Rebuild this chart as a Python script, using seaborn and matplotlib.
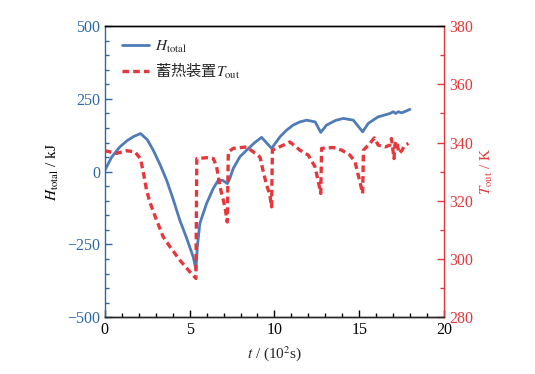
"""Recreate the H_total / T_out dual-axis chart."""

import matplotlib

matplotlib.use("Agg")
import matplotlib.pyplot as plt
import pandas as pd
import seaborn as sns
from matplotlib.ticker import MultipleLocator

# time in units of 10^2 s
t_h = [0.0, 0.4, 0.88, 1.3, 1.67, 2.1, 2.5, 2.85, 3.25, 3.64, 4.0, 4.42, 4.8, 5.21,
       5.37, 5.45, 5.6, 6.0, 6.39, 6.69, 6.95, 7.22, 7.37, 7.57, 7.96, 8.36, 8.8,
       9.24, 9.83, 10.33, 10.7, 11.1, 11.5, 11.9, 12.4, 12.73, 13.07, 13.27, 13.6,
       14.06, 14.65, 15.2, 15.53, 16.1, 16.81, 17.0, 17.15, 17.3, 17.5, 17.99]
h_total = [5, 50, 85, 106, 120, 131, 110, 74, 25, -29, -90, -167, -225, -293,
           -336, -260, -178, -109, -58, -29, -30, -41, -23, 11, 51, 74, 98,
           118, 80, 120, 142, 160, 171, 177, 171, 135, 160, 166, 176,
           183, 177, 137, 166, 188, 200, 206, 200, 206, 202, 214]

t_t = [0.0, 0.69, 1.28, 1.77, 2.1, 2.26, 2.46, 2.65, 3.05, 3.44, 3.84, 4.42, 5.01, 5.37,
       5.42, 6.0, 6.4, 6.59, 6.79, 7.08, 7.22, 7.28, 7.57, 8.36, 8.75, 9.15, 9.34, 9.54,
       9.73, 9.83, 9.88, 10.52, 10.91, 11.5, 11.99, 12.39, 12.59, 12.73, 12.78, 13.47,
       13.96, 14.45, 14.75, 14.89, 15.04, 15.2, 15.25, 15.63, 15.89, 16.12, 16.52,
       16.81, 16.9, 17.05, 17.1, 17.2, 17.35, 17.5, 17.7, 17.9]
t_out = [337.2, 336.3, 337.2, 336.8, 334.5, 330.0, 323.6, 319.6, 313.3, 307.6, 304.2,
         299.6, 295.6, 293.3, 334.5, 334.8, 334.5, 331.7, 324.8, 317.9, 312.7, 336.8,
         338.0, 338.5, 336.8, 335.0, 330.0, 325.4, 321.9, 317.9, 337.4, 339.1, 340.2,
         337.4, 335.7, 331.7, 326.5, 322.5, 338.0, 338.3, 337.4, 335.7, 333.4, 330.0,
         326.5, 322.5, 337.4, 339.7, 341.6, 339.1, 338.5, 339.1, 341.4, 334.5, 339.1,
         340.5, 336.3, 337.2, 339.1, 339.7]

BLUE_LINE = "#4f7bb8"
BLUE_AX = "#2d68a6"
RED = "#e5383c"

sns.set_theme(style="ticks")
plt.rcParams.update(
    {
        "font.family": ["Liberation Serif", "Noto Sans CJK SC"],
        "mathtext.fontset": "stix",
        "font.size": 11,
        "xtick.direction": "in",
        "ytick.direction": "in",
        "axes.linewidth": 1.0,
    }
)

df_h = pd.DataFrame({"t": t_h, "H": h_total})
df_t = pd.DataFrame({"t": t_t, "T": t_out})

fig = plt.figure(figsize=(5.35, 3.74), dpi=100)
ax = fig.add_axes([0.196, 0.152, 0.634, 0.778])
ax2 = ax.twinx()

sns.lineplot(data=df_h, x="t", y="H", ax=ax, color=BLUE_LINE, lw=2.0,
             label=r"$H_{\mathrm{total}}$", legend=False)
sns.lineplot(data=df_t, x="t", y="T", ax=ax2, color=RED, lw=2.4,
             label="蓄热装置$T_{\\mathrm{out}}$", legend=False)
ax2.lines[0].set_dashes([2.0, 1.2])

ax.set_xlim(0, 20)
ax.set_ylim(-500, 500)
ax2.set_ylim(280, 380)
ax.xaxis.set_major_locator(MultipleLocator(5))
ax.xaxis.set_minor_locator(MultipleLocator(1))
ax.yaxis.set_major_locator(MultipleLocator(250))
ax.yaxis.set_minor_locator(MultipleLocator(50))
ax2.yaxis.set_major_locator(MultipleLocator(20))
ax2.yaxis.set_minor_locator(MultipleLocator(10))

ax.tick_params(axis="x", which="major", length=5, width=1, colors="black", labelsize=11.5)
ax.tick_params(axis="x", which="minor", length=3, width=1, colors="black")
ax.tick_params(axis="y", which="major", length=5, width=1, colors=BLUE_AX, labelsize=11.5)
ax.tick_params(axis="y", which="minor", length=3, width=1, colors=BLUE_AX)
ax2.tick_params(axis="y", which="major", length=5, width=1, colors=RED, labelsize=11.5)
ax2.tick_params(axis="y", which="minor", length=3, width=1, colors=RED)
ax.tick_params(axis="x", top=False)

ax.spines["left"].set_color(BLUE_AX)
ax2.spines["left"].set_visible(False)
ax2.spines["right"].set_color(RED)
ax.spines["right"].set_visible(False)
ax2.spines["top"].set_color("black")

ax.set_xlabel(r"$t$ / (10$^2$s)", fontsize=11)
ax.set_ylabel(r"$H_{\mathrm{total}}$ / kJ", fontsize=11, color="black")
ax2.set_ylabel(r"$T_{\mathrm{out}}$ / K", fontsize=11, color=RED)

handles = ax.get_lines()[:1] + ax2.get_lines()[:1]
leg = ax.legend(handles=handles, labels=[h.get_label() for h in handles], loc="upper left",
                bbox_to_anchor=(0.0, 1.015), frameon=False, fontsize=11,
                handlelength=1.8, handletextpad=0.4, borderaxespad=0.7, labelspacing=0.4)
leg.get_texts()[1].set_fontfamily("Noto Sans CJK SC")

fig.savefig("out.png", dpi=100)
